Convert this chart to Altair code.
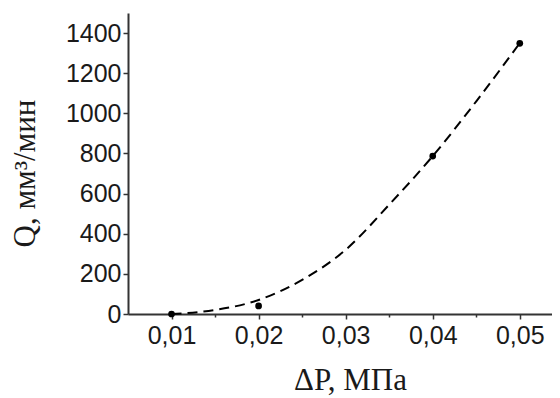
import altair as alt
import pandas as pd

# measured points
dp_pts = [0.01, 0.02, 0.04, 0.05]
q_pts = [0, 40, 787, 1349]

# dashed fitted curve
dp_fit = [0.01, 0.015, 0.02, 0.025, 0.03, 0.035, 0.04, 0.045, 0.05]
q_fit = [0, 20, 70, 170, 320, 545, 787, 1060, 1350]

x_ticks = [0.01, 0.015, 0.02, 0.025, 0.03, 0.035, 0.04, 0.045, 0.05]
y_ticks = [0, 100, 200, 300, 400, 500, 600, 700, 800, 900, 1000, 1100, 1200, 1300, 1400, 1500]

pts = pd.DataFrame({"dp": dp_pts, "q": q_pts})
fit = pd.DataFrame({"dp": dp_fit, "q": q_fit})

xscale = alt.Scale(domain=[0.005, 0.0537], nice=False, zero=False)
yscale = alt.Scale(domain=[0, 1500], nice=False)

xaxis = alt.Axis(
    values=x_ticks,
    title="ΔP, МПа",
    labelExpr="round(datum.value*1000) % 10 == 0 ? replace(format(datum.value, '.2f'), '.', ',') : ''",
    tickSize={"condition": {"test": "round(datum.value*1000) % 10 == 0", "value": 5}, "value": 3},
    labelPadding=4,
    titleX=222, titleY=66, titleBaseline="middle", titleAlign="center",
    titleFontSize=31,
)
yaxis = alt.Axis(
    values=y_ticks,
    title="Q, мм³/мин",
    labelExpr="datum.value % 200 == 0 ? datum.label : ''",
    format="d",
    tickSize={"condition": {"test": "datum.value % 200 == 0", "value": 5}, "value": 3},
    labelPadding=2,
    titleX=-103, titleY=160, titleBaseline="middle", titleAlign="center", titleAngle=-90,
    titleFontSize=31,
)

line = alt.Chart(fit).mark_line(
    color="black", strokeDash=[10, 6], strokeWidth=2, interpolate="monotone"
).encode(
    x=alt.X("dp:Q", scale=xscale, axis=xaxis),
    y=alt.Y("q:Q", scale=yscale, axis=yaxis),
)

points = alt.Chart(pts).mark_circle(color="black", size=45, opacity=1).encode(
    x=alt.X("dp:Q", scale=xscale),
    y=alt.Y("q:Q", scale=yscale),
)

chart = (line + points).properties(
    width=424, height=301,
    autosize=alt.AutoSizeParams(type="none"),
    padding={"left": 120, "top": 5, "right": 0, "bottom": 84},
).configure_view(stroke=None).configure_axis(
    grid=False,
    domainColor="#333", domainWidth=2,
    tickColor="#333", tickWidth=1.5,
    labelFont="Liberation Sans", labelFontSize=25, labelColor="#1a1a1a",
    titleFont="Liberation Serif", titleFontSize=28, titleFontWeight="normal", titleColor="#1a1a1a",
)

chart.save("out.html", embed_options={"renderer": "svg", "actions": False})
